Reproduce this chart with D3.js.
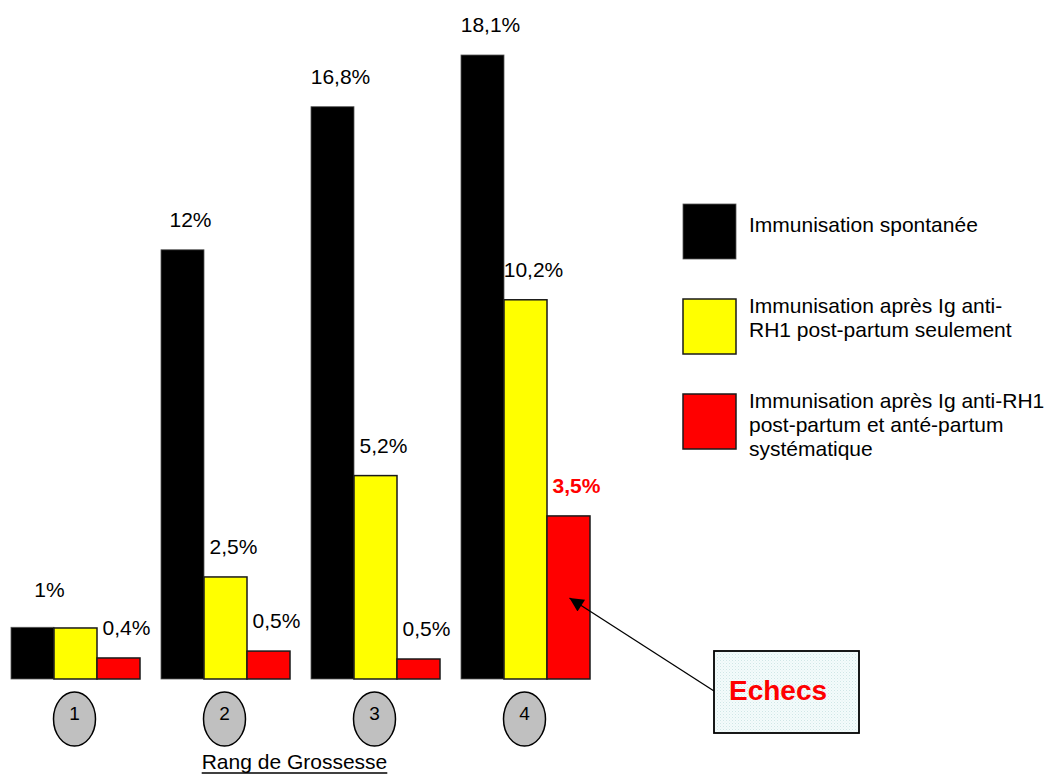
<!DOCTYPE html>
<html>
<head>
<meta charset="utf-8">
<script src="https://cdn.jsdelivr.net/npm/d3@7"></script>
<style>
  html, body { margin: 0; padding: 0; background: #fff; }
  svg { display: block; font-family: "Liberation Sans", Arial, sans-serif; }
</style>
</head>
<body>
<svg id="chart" width="1056" height="779"></svg>
<script>
// ---- data ----
const groups = ["1", "2", "3", "4"];
const seriesNames = [
  "Immunisation spontanée",
  "Immunisation après Ig anti-RH1 post-partum seulement",
  "Immunisation après Ig anti-RH1 post-partum et anté-partum systématique"
];
const seriesKeys = ["spont", "postOnly", "postAnte"];
const seriesColors = ["#000000", "#ffff00", "#ff0000"];
// bar heights as drawn in the picture (in % units)
const heightSpont    = [1.5, 12.45, 16.6, 18.1];
const heightPostOnly = [1.48, 2.96, 5.9, 11.0];
const heightPostAnte = [0.61, 0.81, 0.58, 4.73];
// value labels printed above the bars
const labelSpont    = ["1%", "12%", "16,8%", "18,1%"];
const labelPostOnly = ["", "2,5%", "5,2%", "10,2%"];
const labelPostAnte = ["0,4%", "0,5%", "0,5%", "3,5%"];
const legendLines = [
  ["Immunisation spontanée"],
  ["Immunisation après Ig anti-", "RH1 post-partum seulement"],
  ["Immunisation après Ig anti-RH1", "post-partum et anté-partum", "systématique"]
];
const xTitle = "Rang de Grossesse";
const calloutText = "Echecs";

// ---- build ----
const heights = [heightSpont, heightPostOnly, heightPostAnte];
const labels = [labelSpont, labelPostOnly, labelPostAnte];
const rows = [];
groups.forEach((g, gi) => {
  seriesKeys.forEach((k, si) => {
    rows.push({ group: g, key: k, si, h: heights[si][gi], label: labels[si][gi] });
  });
});

const svg = d3.select("#chart");

const baseY = 679;
const y = d3.scaleLinear().domain([0, 18.1]).range([baseY, 55]);
const x0 = d3.scaleBand().domain(groups).range([11, 590]).paddingInner(0.14).paddingOuter(0);
const x1 = d3.scaleBand().domain(seriesKeys).range([0, x0.bandwidth()]);
const color = d3.scaleOrdinal().domain(seriesKeys).range(seriesColors);

// pattern for callout
const defs = svg.append("defs");
const pat = defs.append("pattern").attr("id", "dots").attr("width", 3).attr("height", 3)
  .attr("patternUnits", "userSpaceOnUse");
pat.append("rect").attr("width", 3).attr("height", 3).attr("fill", "#f4fbfb");
pat.append("rect").attr("width", 1).attr("height", 1).attr("fill", "#cfe6e6");
pat.append("rect").attr("x", 1.5).attr("y", 1.5).attr("width", 1).attr("height", 1).attr("fill", "#dff0f0");

defs.append("marker").attr("id", "arrow").attr("viewBox", "0 0 10 10")
  .attr("refX", 10).attr("refY", 5).attr("markerWidth", 16).attr("markerHeight", 14)
  .attr("markerUnits", "userSpaceOnUse").attr("orient", "auto")
  .append("path").attr("d", "M0,0 L10,5 L0,10 Z").attr("fill", "#000");

// bars
const gBars = svg.append("g");
gBars.selectAll("rect").data(rows).join("rect")
  .attr("x", d => x0(d.group) + x1(d.key))
  .attr("y", d => y(d.h))
  .attr("width", x1.bandwidth())
  .attr("height", d => baseY - y(d.h))
  .attr("fill", d => color(d.key))
  .attr("stroke", d => d.key === "spont" ? "#555" : "#1a1a1a")
  .attr("stroke-width", d => d.key === "spont" ? 0.8 : 1.5);

// value labels
svg.append("g").selectAll("text").data(rows.filter(d => d.label)).join("text")
  .attr("x", d => x0(d.group) + x1(d.key) + x1.bandwidth() / 2 + (d.group === "1" && d.key === "spont" ? 17 : 8))
  .attr("y", d => y(d.h) - (d.group === "1" && d.key === "spont" ? 30 : 23))
  .attr("text-anchor", "middle")
  .attr("font-size", 21)
  .attr("font-weight", d => (d.group === "4" && d.key === "postAnte") ? "bold" : "normal")
  .attr("fill", d => (d.group === "4" && d.key === "postAnte") ? "#ff0000" : "#000")
  .text(d => d.label);

// group ellipses
const gE = svg.append("g").selectAll("g").data(groups).join("g")
  .attr("transform", d => `translate(${x0(d) + x0.bandwidth() / 2 - 1},719)`);
gE.append("ellipse").attr("rx", 21).attr("ry", 27)
  .attr("fill", "#c0c0c0").attr("stroke", "#000").attr("stroke-width", 1.5);
gE.append("text").attr("text-anchor", "middle").attr("y", 1).attr("font-size", 19)
  .text(d => d);

// x title
const titleX = (x0("2") + x0("3") + x0.bandwidth()) / 2 - 6;
const tt = svg.append("text").attr("x", titleX).attr("y", 769)
  .attr("text-anchor", "middle").attr("font-size", 21).text(xTitle);
const bb = tt.node().getBBox();
svg.append("line").attr("x1", bb.x).attr("x2", bb.x + bb.width)
  .attr("y1", 773).attr("y2", 773).attr("stroke", "#000").attr("stroke-width", 1.6);

// legend
const lg = svg.append("g").selectAll("g").data(seriesKeys).join("g")
  .attr("transform", (d, i) => `translate(683,${204 + i * 95})`);
lg.append("rect").attr("width", 53).attr("height", 55)
  .attr("fill", d => color(d))
  .attr("stroke", d => d === "spont" ? "#555" : "#1a1a1a")
  .attr("stroke-width", d => d === "spont" ? 0.8 : 1.5);
lg.each(function(d, i) {
  const lines = legendLines[i];
  const t = d3.select(this).append("text").attr("x", 66).attr("font-size", 21);
  const startY = i === 0 ? 28 : 14;
  t.selectAll("tspan").data(lines).join("tspan")
    .attr("x", 66).attr("y", (l, j) => startY + j * 24).text(l => l);
});

// callout
const redBar4 = rows.find(d => d.group === "4" && d.key === "postAnte");
const tipX = x0("4") + x1("postAnte") + x1.bandwidth() / 2 + 1;
const tipY = y(redBar4.h) + 82;
svg.append("line").attr("x1", 714).attr("y1", 691).attr("x2", tipX).attr("y2", tipY)
  .attr("stroke", "#000").attr("stroke-width", 1.3).attr("marker-end", "url(#arrow)");
svg.append("rect").attr("x", 714).attr("y", 651).attr("width", 145).attr("height", 82)
  .attr("fill", "url(#dots)").attr("stroke", "#000").attr("stroke-width", 1.8);
svg.append("text").attr("x", 729).attr("y", 700).attr("font-size", 28).attr("font-weight", "bold")
  .attr("fill", "#ff0000").text(calloutText);
</script>
</body>
</html>
